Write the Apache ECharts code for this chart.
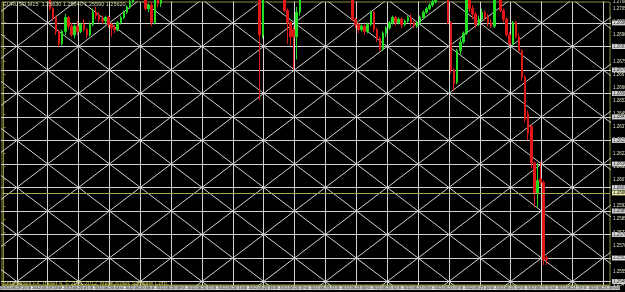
<!DOCTYPE html>
<html>
<head>
<meta charset="UTF-8">
<title>EURUSD,M15</title>
<script src="https://cdn.jsdelivr.net/npm/echarts@6/dist/echarts.min.js"></script>
<style>
    html, body { margin: 0; padding: 0; background: #000; }
    #chart { width: 625px; height: 292px; }
</style>
</head>
<body>
<div id="chart"></div>
<script type="text/javascript">
// chart header / footer
var symbolName = 'EURUSD,M15';
var copyrightText = 'Smartrades FX Trader 4, \u00a9 2001-2012, MetaQuotes Software Corp.';

// M15 bars: [open, close, low, high]
var candles = [
    [1.2716, 1.2718, 1.2714, 1.2719], [1.2718, 1.2717, 1.2715, 1.2720], [1.2717, 1.2720, 1.2716, 1.2721],
    [1.2720, 1.2719, 1.2717, 1.2722], [1.2719, 1.2721, 1.2718, 1.2723], [1.2721, 1.2724, 1.2720, 1.2726],
    [1.2724, 1.2722, 1.2721, 1.2725], [1.2722, 1.2723, 1.2720, 1.2725], [1.2723, 1.2720, 1.2719, 1.2724],
    [1.2720, 1.2719, 1.2717, 1.2722], [1.2719, 1.2721, 1.2718, 1.2722], [1.2721, 1.2718, 1.2716, 1.2722],
    [1.2718, 1.2716, 1.2714, 1.2719], [1.2716, 1.2717, 1.2714, 1.2718], [1.2717, 1.2714, 1.2712, 1.2718],
    [1.2714, 1.2705, 1.2704, 1.2715], [1.2705, 1.2700, 1.2698, 1.2706], [1.2700, 1.2692, 1.2690, 1.2701],
    [1.2692, 1.2685, 1.2683, 1.2693], [1.2685, 1.2692, 1.2684, 1.2693], [1.2692, 1.2700, 1.2690, 1.2702],
    [1.2700, 1.2695, 1.2693, 1.2701], [1.2695, 1.2690, 1.2689, 1.2697], [1.2690, 1.2695, 1.2688, 1.2696],
    [1.2695, 1.2692, 1.2690, 1.2698], [1.2692, 1.2696, 1.2691, 1.2697], [1.2696, 1.2693, 1.2692, 1.2699],
    [1.2693, 1.2690, 1.2688, 1.2694], [1.2690, 1.2696, 1.2689, 1.2697], [1.2696, 1.2703, 1.2695, 1.2705],
    [1.2703, 1.2701, 1.2699, 1.2706], [1.2701, 1.2699, 1.2697, 1.2703], [1.2699, 1.2698, 1.2696, 1.2701],
    [1.2698, 1.2700, 1.2696, 1.2701], [1.2700, 1.2696, 1.2694, 1.2701], [1.2696, 1.2694, 1.2689, 1.2697],
    [1.2694, 1.2693, 1.2691, 1.2696], [1.2693, 1.2697, 1.2692, 1.2698], [1.2697, 1.2700, 1.2696, 1.2701],
    [1.2700, 1.2703, 1.2699, 1.2704], [1.2703, 1.2706, 1.2702, 1.2707], [1.2706, 1.2709, 1.2705, 1.2710],
    [1.2709, 1.2712, 1.2708, 1.2713], [1.2712, 1.2714, 1.2711, 1.2716], [1.2714, 1.2715, 1.2712, 1.2717],
    [1.2715, 1.2713, 1.2711, 1.2717], [1.2713, 1.2705, 1.2704, 1.2715], [1.2705, 1.2707, 1.2703, 1.2708],
    [1.2707, 1.2697, 1.2695, 1.2709], [1.2697, 1.2711, 1.2696, 1.2713], [1.2711, 1.2708, 1.2706, 1.2713],
    [1.2708, 1.2710, 1.2706, 1.2712], [1.2710, 1.2713, 1.2709, 1.2715], [1.2713, 1.2715, 1.2712, 1.2716],
    [1.2715, 1.2714, 1.2712, 1.2717], [1.2714, 1.2717, 1.2713, 1.2718], [1.2717, 1.2719, 1.2716, 1.2721],
    [1.2719, 1.2718, 1.2716, 1.2720], [1.2718, 1.2721, 1.2717, 1.2722], [1.2721, 1.2723, 1.2720, 1.2725],
    [1.2723, 1.2722, 1.2720, 1.2724], [1.2722, 1.2725, 1.2721, 1.2726], [1.2725, 1.2724, 1.2722, 1.2727],
    [1.2724, 1.2727, 1.2723, 1.2729], [1.2727, 1.2729, 1.2726, 1.2731], [1.2729, 1.2728, 1.2726, 1.2730],
    [1.2728, 1.2731, 1.2727, 1.2732], [1.2731, 1.2733, 1.2730, 1.2735], [1.2733, 1.2732, 1.2730, 1.2734],
    [1.2732, 1.2734, 1.2731, 1.2736], [1.2734, 1.2736, 1.2733, 1.2738], [1.2736, 1.2735, 1.2733, 1.2737],
    [1.2735, 1.2737, 1.2734, 1.2739], [1.2737, 1.2738, 1.2736, 1.2740], [1.2738, 1.2736, 1.2735, 1.2739],
    [1.2736, 1.2737, 1.2734, 1.2738], [1.2737, 1.2735, 1.2734, 1.2738], [1.2735, 1.2736, 1.2733, 1.2737],
    [1.2736, 1.2734, 1.2732, 1.2737], [1.2734, 1.2735, 1.2733, 1.2736], [1.2735, 1.2733, 1.2731, 1.2736],
    [1.2733, 1.2734, 1.2732, 1.2735], [1.2734, 1.2732, 1.2730, 1.2735], [1.2732, 1.2690, 1.2653, 1.2734],
    [1.2690, 1.2714, 1.2688, 1.2716], [1.2714, 1.2718, 1.2712, 1.2720], [1.2718, 1.2716, 1.2714, 1.2719],
    [1.2716, 1.2719, 1.2715, 1.2721], [1.2719, 1.2717, 1.2715, 1.2720], [1.2717, 1.2715, 1.2713, 1.2718],
    [1.2715, 1.2714, 1.2712, 1.2717], [1.2714, 1.2704, 1.2703, 1.2715], [1.2704, 1.2697, 1.2685, 1.2705],
    [1.2697, 1.2689, 1.2684, 1.2698], [1.2693, 1.2689, 1.2670, 1.2695], [1.2689, 1.2703, 1.2676, 1.2706],
    [1.2703, 1.2712, 1.2701, 1.2714], [1.2712, 1.2715, 1.2711, 1.2716], [1.2715, 1.2717, 1.2714, 1.2719],
    [1.2717, 1.2716, 1.2714, 1.2718], [1.2716, 1.2719, 1.2715, 1.2720], [1.2719, 1.2721, 1.2718, 1.2723],
    [1.2721, 1.2720, 1.2718, 1.2722], [1.2720, 1.2722, 1.2719, 1.2724], [1.2722, 1.2724, 1.2721, 1.2726],
    [1.2724, 1.2723, 1.2721, 1.2725], [1.2723, 1.2721, 1.2719, 1.2724], [1.2721, 1.2722, 1.2720, 1.2723],
    [1.2722, 1.2720, 1.2718, 1.2723], [1.2720, 1.2721, 1.2718, 1.2722], [1.2721, 1.2719, 1.2717, 1.2722],
    [1.2719, 1.2718, 1.2716, 1.2720], [1.2718, 1.2714, 1.2713, 1.2719], [1.2714, 1.2699, 1.2698, 1.2715],
    [1.2699, 1.2696, 1.2694, 1.2700], [1.2696, 1.2693, 1.2691, 1.2697], [1.2693, 1.2695, 1.2692, 1.2696],
    [1.2695, 1.2692, 1.2690, 1.2696], [1.2692, 1.2696, 1.2691, 1.2697], [1.2696, 1.2703, 1.2695, 1.2704],
    [1.2703, 1.2693, 1.2692, 1.2704], [1.2693, 1.2688, 1.2686, 1.2694], [1.2688, 1.2682, 1.2681, 1.2689],
    [1.2682, 1.2691, 1.2681, 1.2692], [1.2691, 1.2694, 1.2689, 1.2695], [1.2694, 1.2697, 1.2693, 1.2698],
    [1.2697, 1.2700, 1.2696, 1.2701], [1.2700, 1.2697, 1.2695, 1.2701], [1.2697, 1.2699, 1.2696, 1.2700],
    [1.2699, 1.2696, 1.2694, 1.2700], [1.2696, 1.2698, 1.2695, 1.2699], [1.2698, 1.2700, 1.2697, 1.2701],
    [1.2700, 1.2697, 1.2695, 1.2702], [1.2697, 1.2695, 1.2694, 1.2698], [1.2695, 1.2697, 1.2694, 1.2698],
    [1.2697, 1.2700, 1.2696, 1.2701], [1.2700, 1.2703, 1.2699, 1.2704], [1.2703, 1.2705, 1.2702, 1.2706],
    [1.2705, 1.2707, 1.2704, 1.2708], [1.2707, 1.2709, 1.2706, 1.2710], [1.2709, 1.2711, 1.2708, 1.2712],
    [1.2711, 1.2714, 1.2710, 1.2715], [1.2714, 1.2715, 1.2712, 1.2717], [1.2715, 1.2713, 1.2712, 1.2716],
    [1.2713, 1.2697, 1.2696, 1.2714], [1.2697, 1.2670, 1.2668, 1.2698], [1.2670, 1.2662, 1.2658, 1.2671],
    [1.2663, 1.2681, 1.2662, 1.2682], [1.2681, 1.2686, 1.2679, 1.2688], [1.2686, 1.2691, 1.2685, 1.2692],
    [1.2691, 1.2710, 1.2690, 1.2712], [1.2710, 1.2705, 1.2703, 1.2712], [1.2705, 1.2702, 1.2699, 1.2707],
    [1.2702, 1.2696, 1.2694, 1.2703], [1.2696, 1.2699, 1.2695, 1.2701], [1.2699, 1.2703, 1.2698, 1.2705],
    [1.2703, 1.2700, 1.2698, 1.2704], [1.2700, 1.2697, 1.2695, 1.2702], [1.2697, 1.2695, 1.2694, 1.2699],
    [1.2695, 1.2711, 1.2694, 1.2713], [1.2711, 1.2713, 1.2709, 1.2715], [1.2713, 1.2704, 1.2703, 1.2714],
    [1.2704, 1.2699, 1.2697, 1.2705], [1.2699, 1.2690, 1.2689, 1.2700], [1.2690, 1.2685, 1.2684, 1.2692],
    [1.2685, 1.2697, 1.2684, 1.2698], [1.2697, 1.2689, 1.2688, 1.2698], [1.2689, 1.2681, 1.2680, 1.2691],
    [1.2681, 1.2666, 1.2664, 1.2682], [1.2666, 1.2642, 1.2640, 1.2667], [1.2645, 1.2634, 1.2630, 1.2647],
    [1.2638, 1.2617, 1.2614, 1.2639], [1.2617, 1.2600, 1.2592, 1.2618], [1.2600, 1.2607, 1.2592, 1.2617],
    [1.2608, 1.2606, 1.2604, 1.2618], [1.2606, 1.2562, 1.2559, 1.2607], [1.2563, 1.2562, 1.2559, 1.2564]
];

// bar slots on the time scale (bars + empty shift area on the right)
var barCount = 197;

// time labels under the vertical grid lines
var timeLabels = [
    '2012.06.19 20:30', '2012.06.19 23:00', '2012.06.20 01:30', '2012.06.20 04:00', '2012.06.20 06:30',
    '2012.06.20 09:00', '2012.06.20 11:30', '2012.06.20 14:00', '2012.06.20 16:30', '2012.06.20 19:00',
    '2012.06.20 21:30', '2012.06.21 00:00', '2012.06.21 02:30', '2012.06.21 05:00', '2012.06.21 07:30',
    '2012.06.21 10:00', '2012.06.21 12:30', '2012.06.21 15:00', '2012.06.21 17:30', '2012.06.21 20:00'
];

// price scale
var priceMin = 1.25475;
var priceMax = 1.27088;
var priceStep = 0.00075;

// gann grid: first line and spacing in bars / price
var gannTimeStart = 4.3;
var gannTimeStep = 10;
var gannPriceStart = 1.25495;
var gannPriceStep = 0.00134;
var gannRows = 12;

var categories = [];
for (var i = 0; i < barCount; i++) categories.push(String(i));

function gannX(k) { return gannTimeStart + gannTimeStep * k; }
function gannY(j) { return gannPriceStart + gannPriceStep * j; }

var gannSegments = [];
for (var k = 0; k < timeLabels.length; k++) {
    gannSegments.push({coords: [[gannX(k), priceMin - 0.001], [gannX(k), priceMax + 0.001]]});
}
for (var j = 0; j < gannRows; j++) {
    gannSegments.push({coords: [[-2, gannY(j)], [barCount + 2, gannY(j)]]});
}
// diagonals through every other crossing, both directions
for (var m = -8; m <= 11; m++) {
    gannSegments.push({coords: [[gannX(2 * m - 2), gannY(-2)], [gannX(2 * m + 14), gannY(14)]]});
}
for (var n = -2; n <= 18; n++) {
    gannSegments.push({coords: [[gannX(2 * n + 2), gannY(-2)], [gannX(2 * n - 14), gannY(14)]]});
}

var rowLabels = [];
for (var j2 = 0; j2 < gannRows; j2++) rowLabels.push([barCount - 0.5, gannY(j2)]);
var colLabels = [];
for (var k2 = 0; k2 < timeLabels.length; k2++) colLabels.push([gannX(k2), priceMin]);

var last = candles[candles.length - 1];
var headerText = symbolName + '  ' + last[0].toFixed(5) + ' ' + last[3].toFixed(5) + ' ' +
    last[2].toFixed(5) + ' ' + last[1].toFixed(5);

var fg = '#8c8c3c';
var chart = echarts.init(document.getElementById('chart'));
chart.setOption({
    backgroundColor: '#000',
    animation: false,
    title: [
        {text: headerText, left: 3, top: 1, padding: 0,
            textStyle: {fontSize: 5.5, color: '#d8d8b8', fontWeight: 'normal', fontFamily: 'Liberation Sans'}},
        {text: copyrightText, left: 3, top: 280, padding: 0,
            textStyle: {fontSize: 5.5, color: '#c8c850', fontWeight: 'normal', fontFamily: 'Liberation Sans'}}
    ],
    grid: {left: 2, right: 15, top: 2, bottom: 7, show: true, borderColor: fg, borderWidth: 1,
        backgroundColor: '#000', outerBoundsMode: 'none'},
    xAxis: [
        {type: 'category', data: categories, boundaryGap: true,
            axisLine: {show: true, lineStyle: {color: fg}}, axisTick: {show: false},
            axisLabel: {show: false}, splitLine: {show: false}},
        {type: 'value', min: -0.5, max: barCount - 0.5, show: false, position: 'top'}
    ],
    yAxis: {
        type: 'value', position: 'right', min: priceMin, max: priceMax, interval: priceStep, scale: true,
        axisLine: {show: true, lineStyle: {color: fg}},
        axisTick: {show: true, length: 2, lineStyle: {color: fg}},
        axisLabel: {fontSize: 4.5, color: '#e0e0c8', margin: 3, fontFamily: 'Liberation Sans',
            formatter: function (v) { return v.toFixed(5); }},
        splitLine: {show: false}
    },
    series: [
        {
            type: 'lines', coordinateSystem: 'cartesian2d', xAxisIndex: 1, yAxisIndex: 0,
            clip: true, silent: true, z: 1,
            lineStyle: {color: '#d2d2d2', width: 1, opacity: 1, curveness: 0},
            data: gannSegments
        },
        {
            type: 'candlestick', xAxisIndex: 0, yAxisIndex: 0, barWidth: 2, z: 3, clip: true,
            itemStyle: {color: '#22dd22', color0: '#e01818', borderColor: '#22dd22', borderColor0: '#e01818', borderWidth: 1},
            data: candles,
            markLine: {
                silent: true, symbol: ['none', 'none'], animation: false,
                lineStyle: {color: '#a8a850', type: 'solid', width: 1},
                label: {position: 'end', distance: 2, fontSize: 4.5, color: '#000', backgroundColor: '#e8e8a8',
                    padding: [0, 1], fontFamily: 'Liberation Sans',
                    formatter: function (p) { return p.value.toFixed(5); }},
                data: [{yAxis: last[1]}]
            }
        },
        {
            type: 'scatter', xAxisIndex: 1, yAxisIndex: 0, symbolSize: 0, clip: false, silent: true, z: 5,
            data: rowLabels,
            label: {show: true, position: 'right', distance: 2, fontSize: 4.5, color: '#000', backgroundColor: '#ffffff',
                padding: [0, 1], fontFamily: 'Liberation Sans',
                formatter: function (p) { return p.value[1].toFixed(5); }}
        },
        {
            type: 'scatter', xAxisIndex: 1, yAxisIndex: 0, symbolSize: 0, clip: false, silent: true, z: 5,
            data: colLabels,
            label: {show: true, position: 'bottom', distance: 1, fontSize: 4, color: '#000', backgroundColor: '#f2f2f2',
                padding: [0, 1], fontFamily: 'Liberation Sans Narrow, Liberation Sans',
                formatter: function (p) { return timeLabels[p.dataIndex]; }}
        }
    ]
});
</script>
</body>
</html>
